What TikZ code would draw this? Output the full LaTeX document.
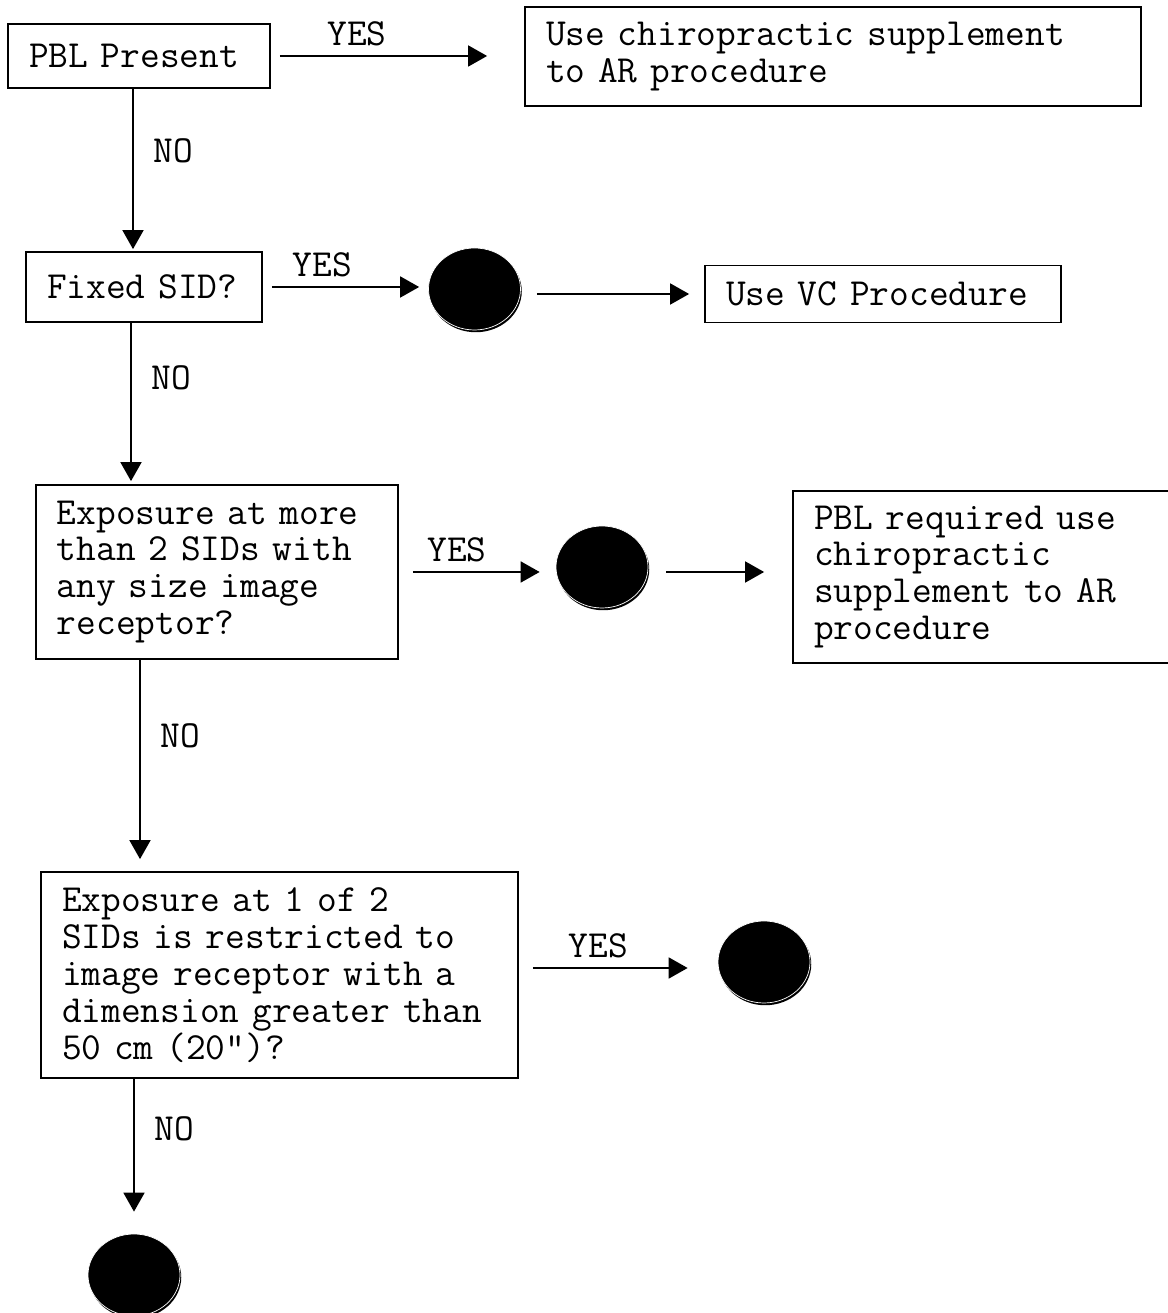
\documentclass[tikz,border=0pt]{standalone}
\usepackage{fontspec}
\usetikzlibrary{arrows.meta,shapes.geometric,shadows}
\newcommand\flowfont{\ttfamily\fontsize{21.8pt}{21pt}\selectfont}

\begin{document}
\begin{tikzpicture}[
  font=\flowfont,
  line width=1pt,
  qbox/.style={draw, rectangle, inner xsep=0.42cm, inner ysep=0, align=left},
  endpt/.style={ellipse, fill=black, draw=white, line width=0.4pt, minimum width=1.84cm, minimum height=1.64cm, inner sep=0,
    drop shadow={shadow xshift=0.025cm, shadow yshift=-0.045cm, fill=black, opacity=1}},
  arr/.style={-{Triangle[length=0.38cm, width=0.42cm]}},
  yeslbl/.style={above=0.18cm, inner sep=0},
  nolbl/.style={right=0.4cm, inner sep=0}
]
\useasboundingbox (0,0) rectangle (23.36,26.26);

% PBL Present
\node[qbox, text width=4.40cm, minimum height=1.28cm] (pbl) at (2.78,25.14) {PBL Present};
\node[qbox, text width=11.48cm, minimum height=1.98cm] (supp) at (16.66,25.13) {Use chiropractic supplement\\to AR procedure};

% Fixed SID
\node[qbox, text width=3.88cm, minimum height=1.40cm] (sid) at (2.88,20.52) {Fixed SID?};
\node[endpt] (c1) at (9.49,20.48) {};
\node[qbox, text width=6.28cm, minimum height=1.14cm] (vc) at (17.66,20.38) {Use VC Procedure};

% Exposure at more than 2 SIDs
\node[qbox, text width=6.40cm, minimum height=3.48cm] (exp) at (4.34,14.82) {Exposure at more\\than 2 SIDs with\\any size image\\receptor?};
\node[endpt] (c2) at (12.04,14.92) {};
\node[qbox, text width=6.74cm, minimum height=3.44cm] (req) at (19.65,14.72) {PBL required use\\chiropractic\\supplement to AR\\procedure};

% Exposure at 1 of 2 SIDs
\node[qbox, text width=8.70cm, minimum height=4.12cm] (ask) at (5.59,6.76) {Exposure at 1 of 2\\SIDs is restricted to\\image receptor with a\\dimension greater than\\50 cm (20”)?};
\node[endpt] (c3) at (15.28,7.02) {};
\node[endpt] (c4) at (2.68,0.76) {};

% Arrows
\draw[arr, shorten <=0.18cm, shorten >=0.74cm] (pbl.east) -- (pbl.east -| supp.west) node[yeslbl, pos=0.34] {YES};
\draw[arr, shorten >=0.04cm] ([xshift=-0.12cm]pbl.south) -- ([xshift=-0.12cm]pbl.south |- sid.north) node[nolbl, pos=0.38] {NO};
\draw[arr, shorten <=0.18cm, shorten >=0.18cm] (sid.east) -- (sid.east -| c1.west) node[yeslbl, pos=0.36] {YES};
\draw[arr, shorten <=0.32cm, shorten >=0.30cm] (c1.east |- vc.west) -- (vc.west);
\draw[arr, shorten >=0.06cm] ([xshift=-0.26cm]sid.south) -- ([xshift=-0.26cm]sid.south |- exp.north) node[nolbl, pos=0.34] {NO};
\draw[arr, shorten <=0.28cm, shorten >=0.32cm] (exp.east) -- (exp.east -| c2.west) node[yeslbl, pos=0.37] {YES};
\draw[arr, shorten <=0.36cm, shorten >=0.56cm] (c2.east |- exp.east) -- (exp.east -| req.west);
\draw[arr, shorten >=0.24cm] ([xshift=-1.54cm]exp.south) -- ([xshift=-1.54cm]exp.south |- ask.north) node[nolbl, pos=0.36] {NO};
\draw[arr, shorten <=0.28cm, shorten >=0.60cm] ([yshift=0.14cm]ask.east) -- ([yshift=0.14cm]ask.east -| c3.west) node[yeslbl, pos=0.40] {YES};
\draw[arr, shorten >=0.44cm] (ask.south -| c4) -- (c4) node[nolbl, pos=0.32] {NO};
\end{tikzpicture}
\end{document}
